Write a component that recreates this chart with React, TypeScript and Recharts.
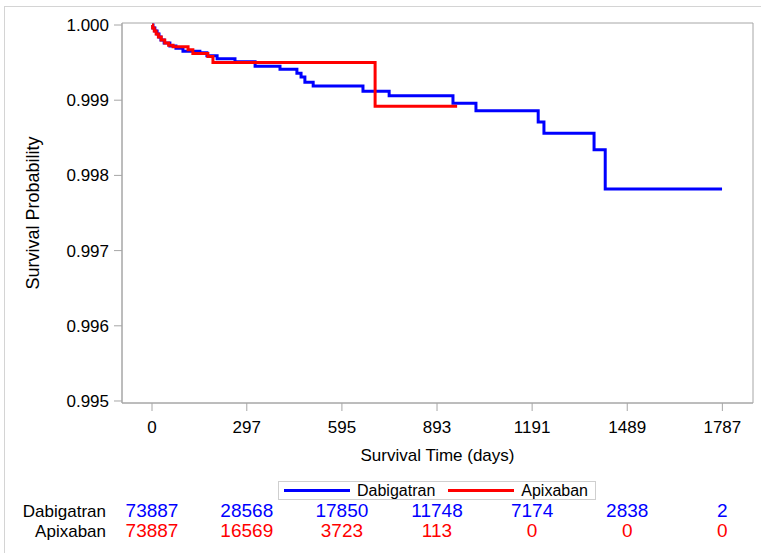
import React from "react";
import {
  LineChart,
  Line,
  XAxis,
  YAxis,
  ReferenceArea,
  Legend,
} from "recharts";

// Kaplan-Meier steps (day, survival)
const dabigatranDays = [0, 3, 9, 16, 22, 28, 38, 56, 75, 97, 150, 172, 204, 260, 323, 401, 454, 467, 479, 505, 661, 743, 943, 1015, 1210, 1228, 1385, 1420, 1786];
const dabigatranSurv = [1.0, 0.99996, 0.99992, 0.99988, 0.99984, 0.9998, 0.99976, 0.99972, 0.99969, 0.99965, 0.99963, 0.99959, 0.99955, 0.99951, 0.99945, 0.99941, 0.99936, 0.99931, 0.99924, 0.99919, 0.99912, 0.99906, 0.99896, 0.99886, 0.99871, 0.99856, 0.99834, 0.99782, 0.99782];

const apixabanDays = [0, 2, 7, 13, 20, 29, 40, 52, 66, 113, 128, 175, 191, 699, 956];
const apixabanSurv = [1.0, 0.99996, 0.99992, 0.99988, 0.99984, 0.9998, 0.99976, 0.99973, 0.99971, 0.99967, 0.99962, 0.99958, 0.9995, 0.99892, 0.99892];

const xTicks = [0, 297, 595, 893, 1191, 1489, 1787];
const yTicks = [0.995, 0.996, 0.997, 0.998, 0.999, 1.0];

// numbers at risk at each x tick
const dabigatranAtRisk = [73887, 28568, 17850, 11748, 7174, 2838, 2];
const apixabanAtRisk = [73887, 16569, 3723, 113, 0, 0, 0];

const X_DOMAIN = [-94, 1883];
const Y_DOMAIN = [0.9949734, 1.0000266];

const FONT = "'Liberation Sans', Arial, sans-serif";
const BLUE = "#0000ff";
const RED = "#ff0000";
const FRAME = "#a6a6a6";

const dabigatranData = dabigatranDays.map((d, i) => ({ day: d, surv: dabigatranSurv[i] }));
const apixabanData = apixabanDays.map((d, i) => ({ day: d, surv: apixabanSurv[i] }));

function XTick(props: any) {
  const { x, y, payload, index } = props;
  return (
    <g fontFamily={FONT}>
      <text x={x} y={y + 20} textAnchor="middle" fontSize={17} fill="#000">
        {payload.value}
      </text>
      <text x={x} y={y + 104} textAnchor="middle" fontSize={19} fill={BLUE}>
        {dabigatranAtRisk[index]}
      </text>
      <text x={x} y={y + 124} textAnchor="middle" fontSize={19} fill={RED}>
        {apixabanAtRisk[index]}
      </text>
      {index === 0 && (
        <>
          <text x={106} y={y + 104} textAnchor="end" fontSize={17} fill="#000">
            Dabigatran
          </text>
          <text x={106} y={y + 124} textAnchor="end" fontSize={17} fill="#000">
            Apixaban
          </text>
        </>
      )}
    </g>
  );
}

function LegendBox() {
  const items = [
    { name: "Dabigatran", color: BLUE },
    { name: "Apixaban", color: RED },
  ];
  return (
    <div
      style={{
        display: "flex",
        alignItems: "center",
        border: "1px solid #cfcfcf",
        width: 318,
        height: 19,
        paddingLeft: 5,
        boxSizing: "border-box",
        fontFamily: FONT,
        fontSize: 16,
        color: "#000",
        background: "#fff",
      }}
    >
      {items.map((it, i) => (
        <div key={it.name} style={{ display: "flex", alignItems: "center", marginRight: i === 0 ? 13 : 0 }}>
          <div style={{ width: 66, height: 3, background: it.color, marginRight: 7 }} />
          <span>{it.name}</span>
        </div>
      ))}
    </div>
  );
}

export default function App() {
  return (
    <div style={{ position: "absolute", left: 0, top: 0, width: 761, height: 553, background: "#fff" }}>
      <div
        style={{
          position: "absolute",
          left: 4,
          top: 6,
          right: 0,
          bottom: 0,
          borderLeft: "1px solid #d4d4d4",
          borderTop: "1px solid #d4d4d4",
        }}
      />
      <div style={{ position: "absolute", left: 0, top: 0 }}>
        <LineChart width={761} height={553} margin={{ top: 23, right: 8, bottom: 80, left: 0 }}>
          <XAxis
            dataKey="day"
            type="number"
            domain={X_DOMAIN}
            ticks={xTicks}
            allowDataOverflow
            height={70}
            tickSize={8}
            stroke={FRAME}
            tick={<XTick />}
            label={{
              value: "Survival Time (days)",
              position: "insideTop",
              offset: 46,
              fontSize: 17,
              fontFamily: FONT,
              fill: "#000",
            }}
          />
          <YAxis
            type="number"
            domain={Y_DOMAIN}
            ticks={yTicks}
            allowDataOverflow
            width={122}
            tickSize={8}
            tickMargin={5}
            stroke={FRAME}
            tickFormatter={(v: number) => v.toFixed(3)}
            tick={{ fontSize: 17, fontFamily: FONT, fill: "#000" }}
            label={{
              value: "Survival Probability",
              angle: -90,
              position: "insideLeft",
              offset: 33,
              fontSize: 18,
              fontFamily: FONT,
              fill: "#000",
              style: { textAnchor: "middle" },
            }}
          />
          <ReferenceArea
            x1={X_DOMAIN[0]}
            x2={X_DOMAIN[1]}
            y1={Y_DOMAIN[0]}
            y2={Y_DOMAIN[1]}
            fill="none"
            stroke={FRAME}
            strokeWidth={1}
          />
          <Line
            data={dabigatranData}
            dataKey="surv"
            name="Dabigatran"
            type="stepAfter"
            stroke={BLUE}
            strokeWidth={3}
            dot={false}
            isAnimationActive={false}
          />
          <Line
            data={apixabanData}
            dataKey="surv"
            name="Apixaban"
            type="stepAfter"
            stroke={RED}
            strokeWidth={3}
            dot={false}
            isAnimationActive={false}
          />
          <Legend
            layout="horizontal"
            verticalAlign="middle"
            align="center"
            content={<LegendBox />}
            wrapperStyle={{ position: "absolute", left: 278, top: 481, width: "auto" }}
          />
        </LineChart>
      </div>
    </div>
  );
}
